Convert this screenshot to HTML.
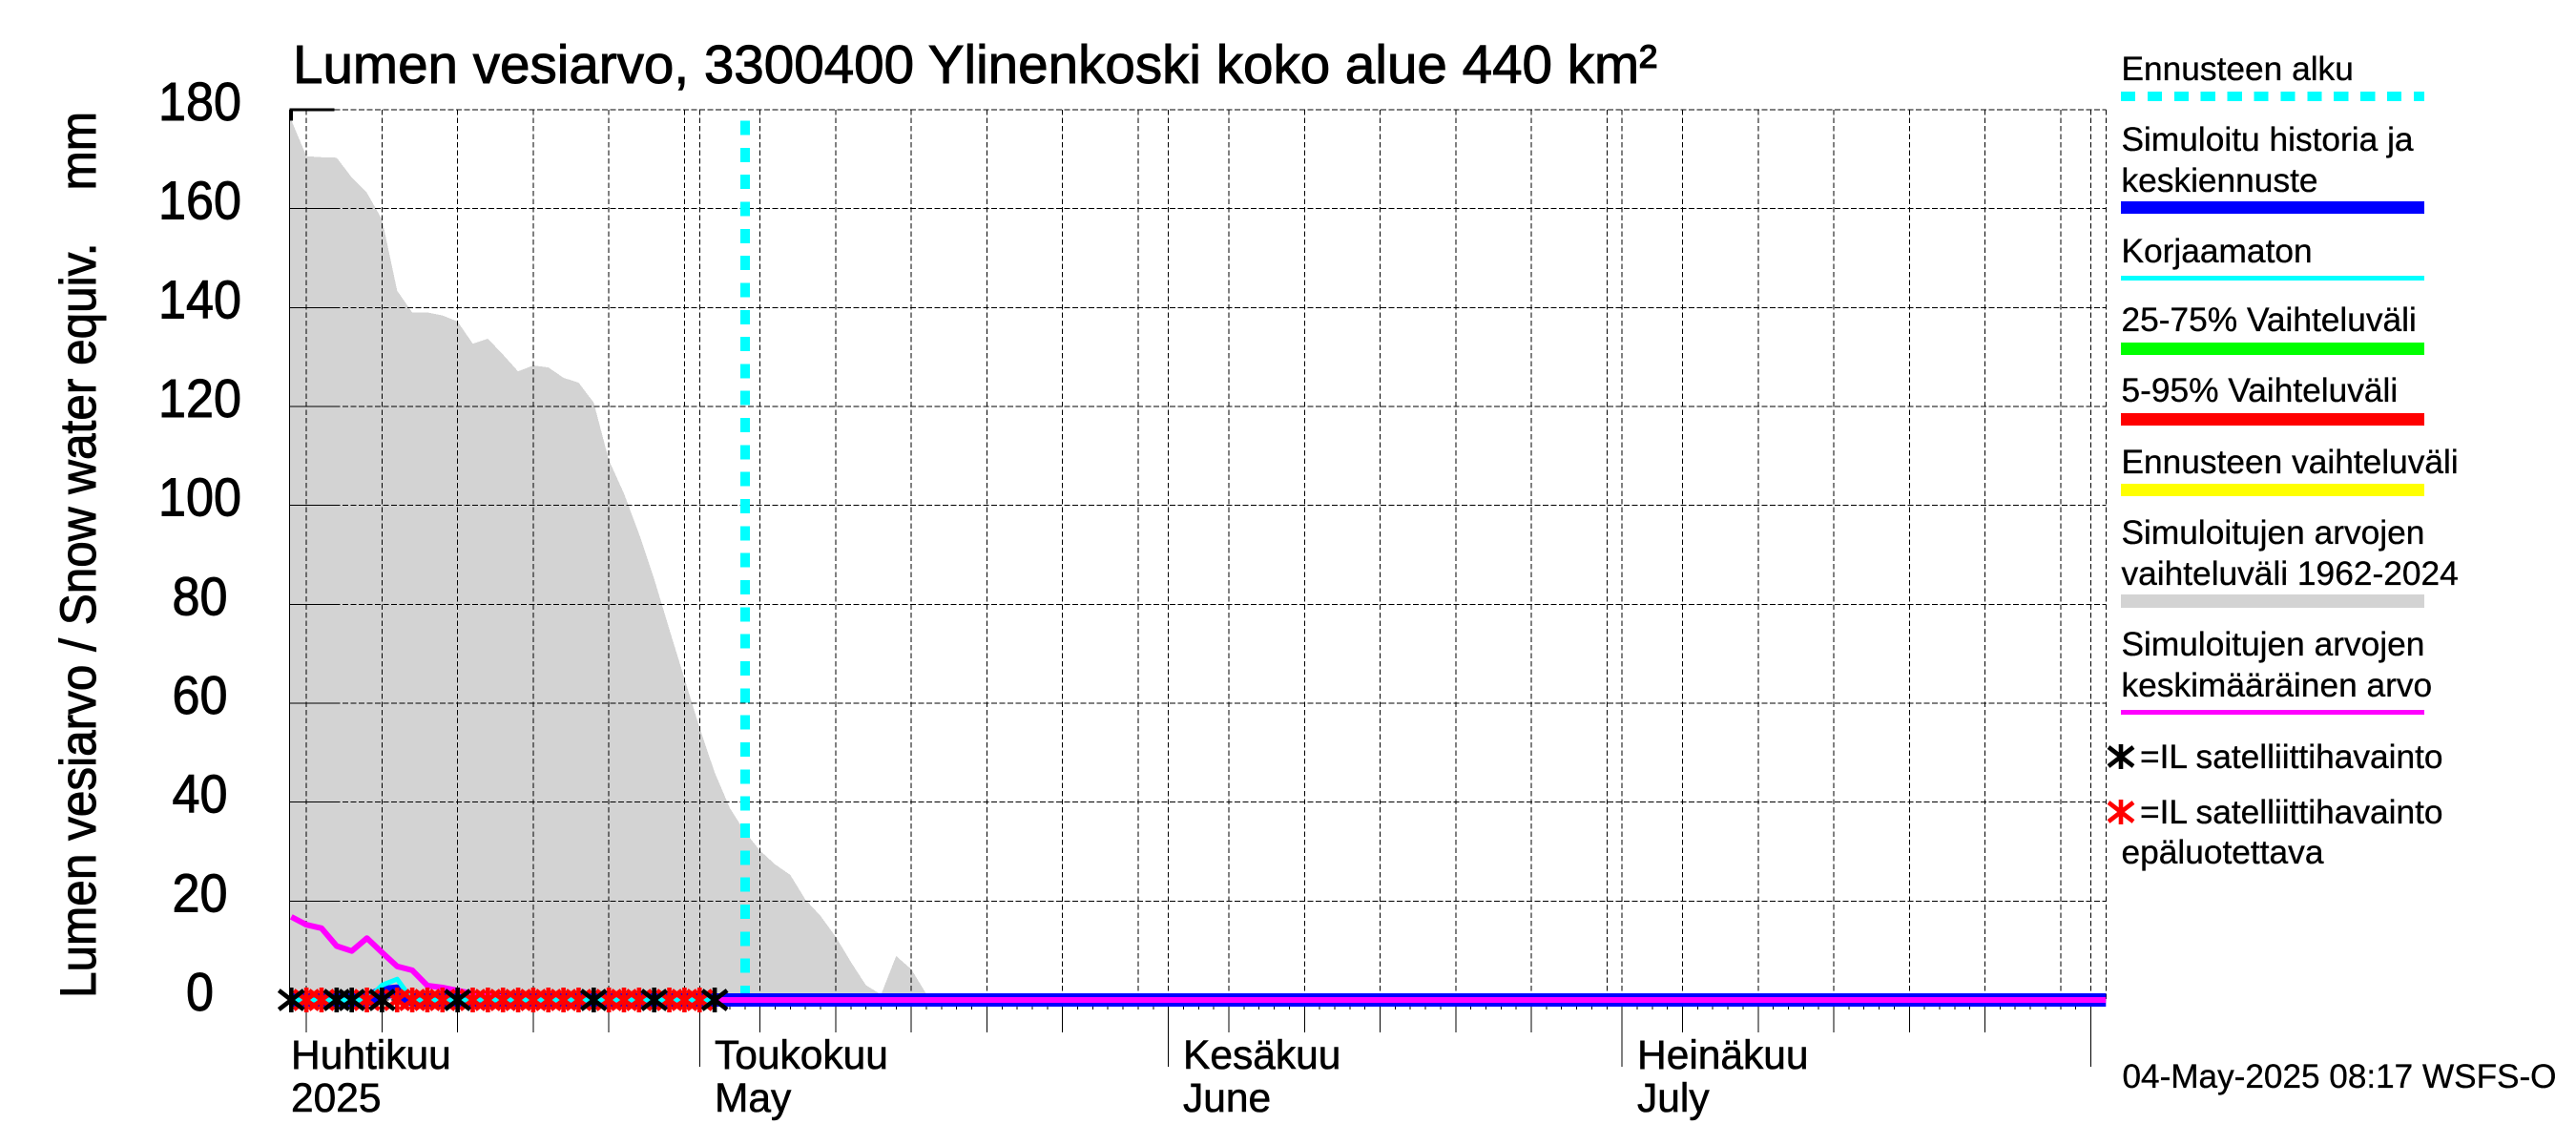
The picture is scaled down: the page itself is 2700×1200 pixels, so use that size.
<!DOCTYPE html>
<html lang="fi">
<head>
<meta charset="utf-8">
<title>Lumen vesiarvo, 3300400 Ylinenkoski koko alue 440 km²</title>
<style>
html,body{margin:0;padding:0;background:#fff;width:2700px;height:1200px;overflow:hidden}
svg{display:block}
text{font-family:"Liberation Sans",Arial,sans-serif;fill:#000;white-space:pre}
.leg{font-size:35.3px;stroke:#000;stroke-width:.35px}
.xl{font-size:42.5px;stroke:#000;stroke-width:.6px}
.big{stroke:#000;stroke-width:1px}
</style>
</head>
<body>
<svg xmlns="http://www.w3.org/2000/svg" width="2700" height="1200" viewBox="0 0 2700 1200">
  <rect x="0" y="0" width="2700" height="1200" fill="#fff"/>

  <text class="big" x="307" y="87" font-size="57" textLength="1430" lengthAdjust="spacingAndGlyphs">Lumen vesiarvo, 3300400 Ylinenkoski koko alue 440 km²</text>
  <text class="big" transform="translate(100,1046) rotate(-90)" font-size="53" textLength="929" lengthAdjust="spacingAndGlyphs">Lumen vesiarvo / Snow water equiv.    mm</text>

  <g id="plot"></g>

  <g>
    <text class="xl" x="305" y="1120">Huhtikuu</text>
    <text class="xl" x="305" y="1165">2025</text>
    <text class="xl" x="749" y="1120">Toukokuu</text>
    <text class="xl" x="749" y="1165">May</text>
    <text class="xl" x="1240" y="1120">Kesäkuu</text>
    <text class="xl" x="1240" y="1165">June</text>
    <text class="xl" x="1716" y="1120">Heinäkuu</text>
    <text class="xl" x="1716" y="1165">July</text>
  </g>

  <g>
    <g>
      <text class="leg" x="2223.5" y="84">Ennusteen alku</text>
      <line x1="2223" y1="101" x2="2541" y2="101" stroke="#00ffff" stroke-width="10" stroke-dasharray="15.2 12.7" shape-rendering="crispEdges"/>
    </g>
    <g>
      <text class="leg" x="2223.5" y="158">Simuloitu historia ja</text>
      <text class="leg" x="2223.5" y="201">keskiennuste</text>
      <rect x="2223" y="211" width="318" height="13" fill="#0000ff"/>
    </g>
    <g>
      <text class="leg" x="2223.5" y="275">Korjaamaton</text>
      <rect x="2223" y="289" width="318" height="5" fill="#00ffff"/>
    </g>
    <g>
      <text class="leg" x="2223.5" y="347">25-75% Vaihteluväli</text>
      <rect x="2223" y="359" width="318" height="13" fill="#00ff00"/>
    </g>
    <g>
      <text class="leg" x="2223.5" y="421">5-95% Vaihteluväli</text>
      <rect x="2223" y="433" width="318" height="13" fill="#ff0000"/>
    </g>
    <g>
      <text class="leg" x="2223.5" y="496">Ennusteen vaihteluväli</text>
      <rect x="2223" y="507" width="318" height="13" fill="#ffff00"/>
    </g>
    <g>
      <text class="leg" x="2223.5" y="570">Simuloitujen arvojen</text>
      <text class="leg" x="2223.5" y="613">vaihteluväli 1962-2024</text>
      <rect x="2223" y="623" width="318" height="14" fill="#d3d3d3"/>
    </g>
    <g>
      <text class="leg" x="2223.5" y="687">Simuloitujen arvojen</text>
      <text class="leg" x="2223.5" y="730">keskimääräinen arvo</text>
      <rect x="2223" y="744" width="318" height="5" fill="#ff00ff"/>
    </g>
    <g>
      <path d="M2223 780V806M2210 783L2236 803M2210 803L2236 783" stroke="#000" stroke-width="4.6" fill="none"/>
      <text class="leg" x="2243" y="805">=IL satelliittihavainto</text>
    </g>
    <g>
      <path d="M2223 838V864M2210 841L2236 861M2210 861L2236 841" stroke="#ff0000" stroke-width="4.6" fill="none"/>
      <text class="leg" x="2243" y="863">=IL satelliittihavainto</text>
      <text class="leg" x="2223.5" y="905">epäluotettava</text>
    </g>
  </g>

  <text class="leg" x="2224.5" y="1140" textLength="455" lengthAdjust="spacingAndGlyphs">04-May-2025 08:17 WSFS-O</text>
</svg>

<script>
// --- chart data: day index = days since 4 April 2025 ---
const yTicks = [0, 20, 40, 60, 80, 100, 120, 140, 160, 180];
const monthStartDays = [-3, 27, 58, 88, 119];
const gridDaysOfMonth = [1, 5, 10, 15, 20, 25, 30];
const forecastStartDay = 30;
const forecastLineTop = 178;

const rangeDays = [0,1,2,3,4,5,6,7,8,9,10,11,12,13,14,15,16,17,18,19,20,21,22,23,24,25,26,27,28,29,30,31,32,33,34,35,36,37,38,39,40,41,42,43,120];
const rangeValues = [177.9,170.6,170.4,170.3,166.3,163.2,157.8,143.4,139,139,138.4,137.2,132.7,133.7,130.5,127.1,128.3,127.9,125.8,124.8,120.8,109.2,102.4,94.2,85.1,75,65,55,46,38.8,34,30.2,27.4,25.3,20.3,17,12.8,7.7,3,1.1,8.9,6.2,1.2,0,0];

const meanDays = [0,1,2,3,4,5,6,7,8,9,10,11,12,13,14,16,120];
const meanValues = [16.8,15.2,14.5,10.9,9.9,12.5,9.6,6.8,6.0,2.9,2.5,1.9,1.3,0.9,0.5,0,0];

const simulatedDays = [0,5,6,7,8,120];
const simulatedValues = [0,0,1.5,1.8,0,0];

const uncorrectedDays = [0,5,6,7,8,28];
const uncorrectedValues = [0,0,3.0,4.2,0,0];

const reliableObsDays = [0,3,4,6,11,20,24,28];
const reliableObsValues = [0,0,0,0,0,0,0,0];
const unreliableObsDays = [1,2,5,7,8,9,10,12,13,14,15,16,17,18,19,21,22,23,25,26,27];
const unreliableObsValues = [0,0,0,0,0,0,0,0,0,0,0,0,0,0,0,0,0,0,0,0,0];

// --- axis functions ---
const xScale = d => 305.3 + 15.85 * d;
const yScale = v => 1048 - 5.1833 * v;
const plotLeft = xScale(-0.126);
const plotRight = xScale(120);
const plotTop = yScale(180);
const plotBottom = yScale(0);

const NS = 'http://www.w3.org/2000/svg';
const plot = document.getElementById('plot');
function make(tag, attrs, parent) {
  const el = document.createElementNS(NS, tag);
  for (const k in attrs) el.setAttribute(k, attrs[k]);
  (parent || plot).appendChild(el);
  return el;
}
function linePath(days, values) {
  return days.map((d, i) => (i ? 'L' : 'M') + xScale(d).toFixed(1) + ' ' + yScale(values[i]).toFixed(1)).join('');
}
const crisp = 'crispEdges';

// simulated range area
let rangeD = 'M' + plotLeft + ' ' + plotBottom + 'L' + plotLeft + ' ' + yScale(rangeValues[0]).toFixed(1);
rangeDays.forEach((d, i) => { rangeD += 'L' + xScale(d).toFixed(1) + ' ' + yScale(rangeValues[i]).toFixed(1); });
rangeD += 'Z';
const rangeArea = make('path', {d: rangeD, fill: '#d3d3d3', 'shape-rendering': crisp});



// grid + ticks
const grid = make('g', {});


const xTicks = make('g', {});



yTicks.forEach(v => {
  const y = yScale(v);
  const gl = make('line', {x1: plotLeft + 47, x2: plotRight, y1: y, y2: y, stroke: '#000', 'stroke-width': 1, 'stroke-dasharray': '6 2.5', 'shape-rendering': crisp}, grid);
  
  
  const tk = make('line', {x1: plotLeft, x2: plotLeft + 47, y1: y, y2: y, stroke: '#000', 'stroke-width': 1, 'shape-rendering': crisp}, grid);
  
  
  const lb = make('text', {class: 'big', x: 209.5, y: y + 11, 'font-size': 57, 'text-anchor': 'middle', textLength: String(v).length * 29, lengthAdjust: 'spacingAndGlyphs'});
  lb.textContent = String(v);
  
  
});

monthStartDays.forEach(start => {
  gridDaysOfMonth.forEach(dom => {
    const d = start + dom - 1;
    if (d < 0 || d > 120) return;
    const x = xScale(d);
    const gl = make('line', {x1: x, x2: x, y1: plotTop, y2: plotBottom, stroke: '#000', 'stroke-width': 1, 'stroke-dasharray': '5.5 3', 'shape-rendering': crisp}, grid);
    
    
    if (dom === 30) return;
    const tk = make('line', {x1: x, x2: x, y1: plotBottom, y2: dom === 1 ? 1118 : 1082, stroke: '#000', 'stroke-width': 1, 'shape-rendering': crisp}, xTicks);
    
    
  });
});
for (let d = 0; d <= 119; d++) {
  const tk = make('line', {x1: xScale(d), x2: xScale(d), y1: plotBottom, y2: 1058, stroke: '#000', 'stroke-width': 1, 'shape-rendering': crisp}, xTicks);
  
  
}

// right border dashed, left axis and thick corner
const rightBorder = make('line', {x1: plotRight, x2: plotRight, y1: plotTop, y2: plotBottom, stroke: '#000', 'stroke-width': 1, 'stroke-dasharray': '5.5 3', 'shape-rendering': crisp});


const leftAxis = make('line', {x1: plotLeft, x2: plotLeft, y1: plotTop, y2: plotBottom, stroke: '#000', 'stroke-width': 1, 'shape-rendering': crisp});


const corner = make('path', {d: 'M' + (plotLeft + 2) + ' ' + (plotTop + 11.5) + 'V' + plotTop + 'H' + (plotLeft + 47), fill: 'none', stroke: '#000', 'stroke-width': 3.4, 'shape-rendering': crisp});



// forecast start marker
const forecastLine = make('line', {x1: xScale(forecastStartDay), x2: xScale(forecastStartDay), y1: plotBottom, y2: yScale(forecastLineTop), stroke: '#00ffff', 'stroke-width': 10, 'stroke-dasharray': '15 13.33', 'shape-rendering': crisp});



// series
const simLine = make('path', {d: linePath(simulatedDays, simulatedValues), fill: 'none', stroke: '#0000ff', 'stroke-width': 14, 'stroke-linejoin': 'round'});



const meanLine = make('path', {d: linePath(meanDays, meanValues), fill: 'none', stroke: '#ff00ff', 'stroke-width': 6, 'stroke-linejoin': 'round'});



const uncLine = make('path', {d: linePath(uncorrectedDays, uncorrectedValues), fill: 'none', stroke: '#00ffff', 'stroke-width': 5, 'stroke-linejoin': 'round'});



// satellite observation markers
function starPath(d, v) {
  const x = xScale(d), y = yScale(v);
  return 'M' + x + ' ' + (y - 13) + 'V' + (y + 13) +
         'M' + (x - 13) + ' ' + (y - 10) + 'L' + (x + 13) + ' ' + (y + 10) +
         'M' + (x - 13) + ' ' + (y + 10) + 'L' + (x + 13) + ' ' + (y - 10);
}
const redStars = make('g', {});


unreliableObsDays.forEach((d, i) => {
  const s = make('path', {d: starPath(d, unreliableObsValues[i]), fill: 'none', stroke: '#ff0000', 'stroke-width': 4.6}, redStars);
  
  
});
const blackStars = make('g', {});


reliableObsDays.forEach((d, i) => {
  const s = make('path', {d: starPath(d, reliableObsValues[i]), fill: 'none', stroke: '#000', 'stroke-width': 4.6}, blackStars);
  
  
});
</script>
</body>
</html>
